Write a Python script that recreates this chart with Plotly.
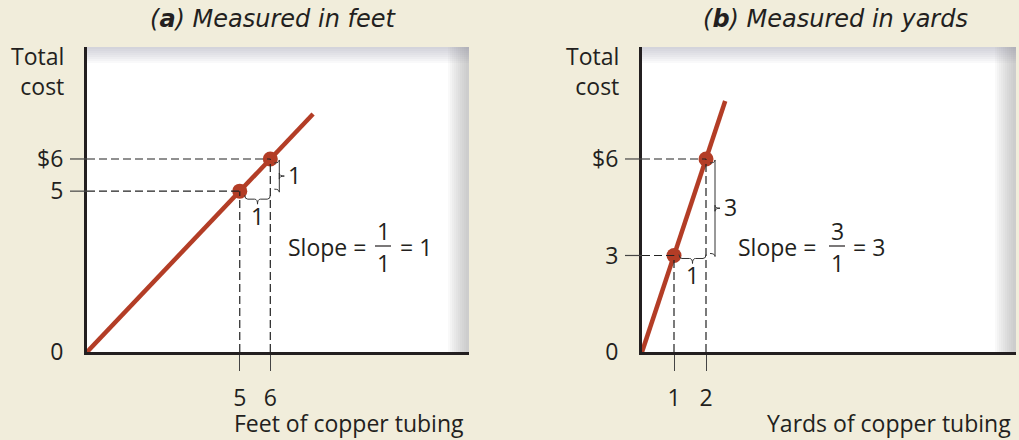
"""
Costo total del tubo de cobre medido en pies y en yardas:
la misma relacion da pendientes distintas segun la unidad.
"""

import plotly.graph_objects as go

W, H = 1019, 440
BG = '#F1EDDB'
RED = '#B33D26'
INK = '#231F20'
FONT = 'Open Sans'
TFONT = 'DejaVu Sans'
FS = 23

# (a) medido en pies
feet_pts_x = [5, 6]
feet_pts_cost = [5, 6]
feet_line_x = [0, 7.4]
feet_line_cost = [0, 7.4]
feet_xticks = [5, 6]
feet_yticks = [0, 5, 6]
feet_ylabels = ['0', '5', '$6']

# (b) medido en yardas
yard_pts_x = [1, 2]
yard_pts_cost = [3, 6]
yard_line_x = [0, 2.6]
yard_line_cost = [0, 7.8]
yard_xticks = [1, 2]
yard_yticks = [0, 3, 6]
yard_ylabels = ['0', '3', '$6']


def px(x):
    return x / W


def py(y):
    return 1 - y / H


def label(x, y, text, xanchor='center', size=FS, family=FONT, align='center'):
    return dict(xref='paper', yref='paper', x=px(x), y=py(y), text=text,
                xanchor=xanchor, yanchor='middle', align=align,
                showarrow=False, font=dict(size=size, color=INK, family=family))


def hbrace(x0, x1, yb, hook, tip, r):
    m = (x0 + x1) / 2
    return (f"M{x0},{yb + hook} Q{x0},{yb} {x0 + r},{yb} L{m - r},{yb} "
            f"Q{m},{yb} {m},{yb - tip} Q{m},{yb} {m + r},{yb} "
            f"L{x1 - r},{yb} Q{x1},{yb} {x1},{yb + hook}")


def vbrace(y0, y1, xb, hook, tip, r):
    m = (y0 + y1) / 2
    return (f"M{xb - hook},{y0} Q{xb},{y0} {xb},{y0 + r} L{xb},{m - r} "
            f"Q{xb},{m} {xb + tip},{m} Q{xb},{m} {xb},{m + r} "
            f"L{xb},{y1 - r} Q{xb},{y1} {xb - hook},{y1}")


fig = go.Figure()

panels = [
    dict(n='', box=(87, 469, 47, 352), xu=30.55, yu=32.17,
         px_=feet_pts_x, py_=feet_pts_cost, lx=feet_line_x, ly=feet_line_cost,
         xt=feet_xticks, yt=feet_yticks, yl=feet_ylabels,
         title='<i>(<b>a</b>) Measured in feet</i>', tcx=273,
         xtitle='Feet of copper tubing',
         slope=(368, 383, 398), hgap=8),
    dict(n='2', box=(642, 1016, 47, 352), xu=32.0, yu=32.17,
         px_=yard_pts_x, py_=yard_pts_cost, lx=yard_line_x, ly=yard_line_cost,
         xt=yard_xticks, yt=yard_yticks, yl=yard_ylabels,
         title='<i>(<b>b</b>) Measured in yards</i>', tcx=835,
         xtitle='Yards of copper tubing',
         slope=(818, 837, 851), hgap=3),
]

shapes = []
annotations = []

for p in panels:
    left, right, top, bottom = p['box']
    xu, yu = p['xu'], p['yu']
    xr = 'x' + p['n']
    yr = 'y' + p['n']
    xmax = (right - left) / xu
    ymax = (bottom - top) / yu

    fig.add_trace(go.Scatter(x=p['lx'], y=p['ly'], mode='lines',
                             line=dict(color=RED, width=4.5),
                             xaxis=xr, yaxis=yr, showlegend=False,
                             hoverinfo='skip'))
    fig.add_trace(go.Scatter(x=p['px_'], y=p['py_'], mode='markers',
                             marker=dict(color=RED, size=15),
                             xaxis=xr, yaxis=yr, showlegend=False))

    ax = dict(domain=[px(left), px(right)], range=[0, xmax], showline=True,
              linewidth=3, linecolor=INK, showgrid=False, zeroline=False,
              tickvals=p['xt'], ticks='outside', ticklen=16, tickwidth=1.2,
              tickcolor='#444', ticklabelstandoff=7, automargin=False,
              tickfont=dict(size=FS, color=INK), anchor=yr, fixedrange=True)
    ay = dict(domain=[py(bottom), py(top)], range=[0, ymax], showline=True,
              linewidth=3, linecolor=INK, showgrid=False, zeroline=False,
              tickvals=p['yt'], ticktext=p['yl'], ticks='',
              ticklabelstandoff=16, tickfont=dict(size=FS, color=INK),
              automargin=False, anchor=xr, fixedrange=True)
    fig.update_layout(**{'xaxis' + p['n']: ax, 'yaxis' + p['n']: ay})

    # sombreado gris de arriba y de la derecha
    xd = xr + ' domain'
    yd = yr + ' domain'
    wpx = right - left
    hpx = bottom - top
    for i in range(10):
        shapes.append(dict(type='rect', xref=xd, yref=yd, layer='below',
                           x0=1 - (21 - 2 * i) / wpx, x1=1, y0=0, y1=1,
                           fillcolor='#8E9196', opacity=0.055, line_width=0))
    for i in range(8):
        shapes.append(dict(type='rect', xref=xd, yref=yd, layer='below',
                           x0=0, x1=1, y0=1 - (16 - 2 * i) / hpx, y1=1,
                           fillcolor='#8E9196', opacity=0.05, line_width=0))

    # marcas del eje y
    for v in p['yt']:
        if v == 0:
            continue
        shapes.append(dict(type='line', xref=xd, yref=yr, x0=-17 / wpx, x1=0,
                           y0=v, y1=v, line=dict(color='#444', width=1.2)))

    # lineas punteadas
    dash = dict(color='#222', width=1.2, dash='8px,4px')
    for x, y in zip(p['px_'], p['py_']):
        shapes.append(dict(type='line', xref=xr, yref=yr, x0=0, x1=x,
                           y0=y, y1=y, line=dash))
        shapes.append(dict(type='line', xref=xr, yref=yr, x0=x, x1=x,
                           y0=0, y1=y, line=dash))

    # llaves
    x0, x1 = p['px_']
    y0, y1 = p['py_']
    yb = y0 - p['hgap'] / yu
    shapes.append(dict(type='path', xref=xr, yref=yr,
                       path=hbrace(x0 + 5 / xu, x1, yb, 4 / yu, 5 / yu, 3 / xu),
                       line=dict(color='#333', width=1)))
    xb = x1 + 9 / xu
    shapes.append(dict(type='path', xref=xr, yref=yr,
                       path=vbrace(y1 - 4 / yu, y0 + 2 / yu, xb, 5 / xu, 5 / xu,
                                   3 / yu),
                       line=dict(color='#333', width=1)))
    rise = y1 - y0
    run = x1 - x0
    annotations.append(dict(xref=xr, yref=yr, x=xb + 7 / xu, y=(y0 + y1) / 2,
                            text=f'{rise:g}', xanchor='left', yanchor='middle',
                            showarrow=False, font=dict(size=FS, color=INK)))
    annotations.append(dict(xref=xr, yref=yr, x=(x0 + x1) / 2 + 2 / xu,
                            y=yb - 17 / yu, text=f'{run:g}', xanchor='center',
                            yanchor='middle', showarrow=False,
                            font=dict(size=FS, color=INK)))

    # pendiente
    sr, sc, sl = p['slope']
    annotations += [
        label(sr, 247, 'Slope =', xanchor='right'),
        label(sc, 231, f'{rise:g}'),
        label(sc, 263, f'{run:g}'),
        label(sl, 247, f'= {rise / run:g}', xanchor='left'),
    ]
    shapes.append(dict(type='line', xref='paper', yref='paper',
                       x0=px(sc - 8), x1=px(sc + 8), y0=py(246), y1=py(246),
                       line=dict(color=INK, width=1.2)))

    # titulos
    annotations.append(label(p['tcx'], 19, p['title'], family=TFONT, size=24))
    annotations.append(label(right - 3, 423, p['xtitle'], xanchor='right',
                             size=23))
    annotations.append(label(left - 21, 71, 'Total<br>cost', xanchor='right',
                             align='right'))

fig.update_layout(
    width=W, height=H,
    margin=dict(l=0, r=0, t=0, b=0),
    paper_bgcolor=BG,
    plot_bgcolor='white',
    font=dict(family=FONT, color=INK),
    shapes=shapes,
    annotations=annotations,
)

fig.write_html("out.html", config={'displayModeBar': False},
               post_script="document.body.style.margin='0';")
